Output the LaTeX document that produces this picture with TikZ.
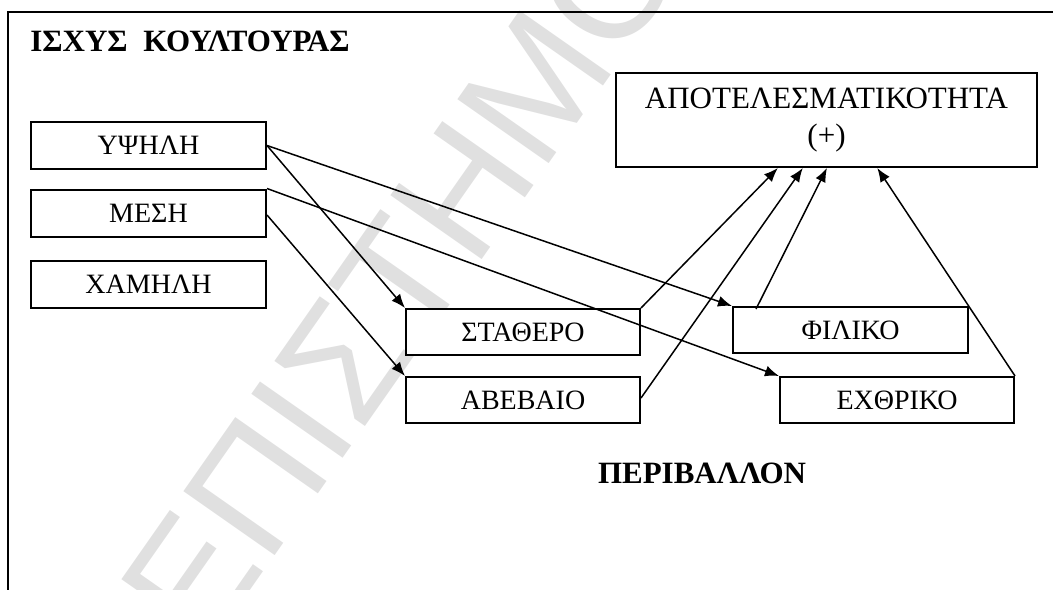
\documentclass[tikz,border=0pt]{standalone}
\usepackage{fontspec}
\setmainfont{Liberation Serif}
\newfontfamily\wmfont{Liberation Sans}
\usetikzlibrary{arrows.meta,calc}
\begin{document}
\begin{tikzpicture}[x=0.5pt,y=-0.5pt,
  box/.style={draw,line width=1pt,fill=white,minimum width=117.5pt,minimum height=23.5pt,inner sep=0pt,font=\fontsize{14}{16}\selectfont},
  arr/.style={-{Latex[length=7pt,width=5.5pt]},line width=0.75pt},
  frame/.style={line width=1pt},
  boldlabel/.style={font=\bfseries\fontsize{15.5}{18}\selectfont,inner sep=0pt},
  watermark/.style={text=black!12,font=\wmfont\fontsize{81}{81}\selectfont,inner sep=0pt}
]
\useasboundingbox (0,0) rectangle (1053,589);
\clip (0,0) rectangle (1053,589);
% watermark
\node[watermark,rotate=55,anchor=base west] (wm) at (205,655) {ΕΠΙΣΤΗΜΟ};
% frame
\draw[frame] (8,600) -- (8,12) -- (1060,12);
% titles
\node[boldlabel,anchor=base west] (title) at (30,51) {ΙΣΧΥΣ\ \ ΚΟΥΛΤΟΥΡΑΣ};
\node[boldlabel,anchor=base] (env) at (702,483) {ΠΕΡΙΒΑΛΛΟΝ};
% boxes
\node[box] (ypsili) at (148.5,145.5) {ΥΨΗΛΗ};
\node[box] (mesi) at (148.5,213) {ΜΕΣΗ};
\node[box] (xamili) at (148.5,284) {ΧΑΜΗΛΗ};
\node[box,minimum width=117pt,minimum height=23pt] (statero) at (523,332) {ΣΤΑΘΕΡΟ};
\node[box,minimum width=117pt,minimum height=23pt] (avevaio) at (523,400) {ΑΒΕΒΑΙΟ};
\node[box,minimum height=23pt] (filiko) at (850.5,330) {ΦΙΛΙΚΟ};
\node[box,minimum width=117pt,minimum height=23pt] (exthriko) at (897,400) {ΕΧΘΡΙΚΟ};
\node[box,minimum width=210.5pt,minimum height=47pt,align=center,font=\fontsize{15.5}{18.5}\selectfont] (apot) at (826.5,120) {ΑΠΟΤΕΛΕΣΜΑΤΙΚΟΤΗΤΑ\\(+)};
% connectors
\draw[arr] (ypsili.east) -- (filiko.north west);
\draw[arr] (ypsili.east) -- (statero.north west);
\draw[arr] (mesi.north east) -- (exthriko.north west);
\draw[arr] ($(mesi.east)+(0,2)$) -- (avevaio.north west);
\draw[arr] (statero.north east) -- ($(apot.south west)!0.385!(apot.south east)$);
\draw[arr] ($(avevaio.east)+(0,-2)$) -- ($(apot.south west)!0.444!(apot.south east)$);
\draw[arr] ($(filiko.north west)+(24,3)$) -- ($(apot.south west)!0.501!(apot.south east)$);
\draw[arr] (exthriko.north east) -- ($(apot.south west)!0.62!(apot.south east)$);
\end{tikzpicture}
\end{document}
